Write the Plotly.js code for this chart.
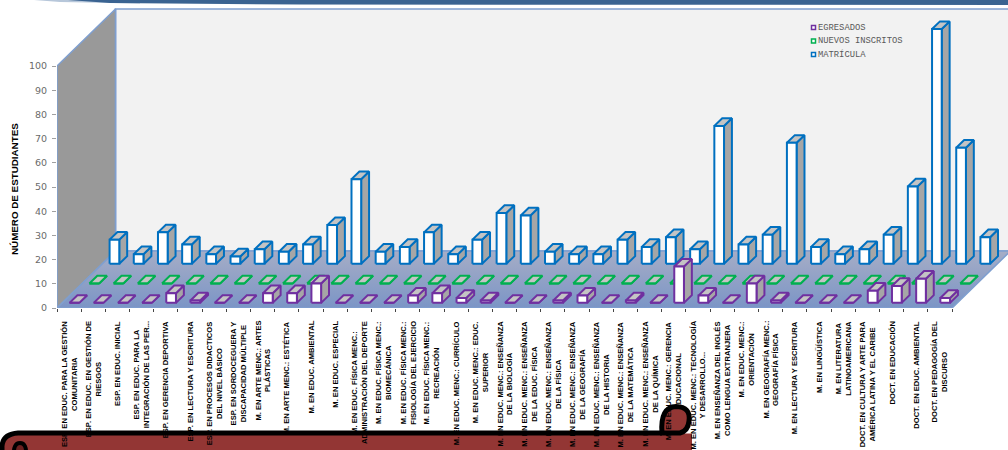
<!DOCTYPE html>
<html>
<head>
<meta charset="utf-8">
<script src="https://cdn.plot.ly/plotly-3.0.1.min.js"></script>
<style>html,body{margin:0;padding:0;background:#fff;overflow:hidden}#chart{width:1008px;height:450px}</style>
</head>
<body>
<div id="chart"></div>
<script>
const categories = [
 "ESP. EN EDUC. PARA LA GESTIÓN<br>COMUNITARIA",
 "ESP. EN EDUC. EN GESTIÓN DE<br>RIESGOS",
 "ESP. EN EDUC. INICIAL",
 "ESP. EN EDUC. PARA LA<br>INTEGRACIÓN DE LAS PER...",
 "ESP. EN GERENCIA DEPORTIVA",
 "ESP. EN LECTURA Y ESCRITURA",
 "ESP. EN PROCESOS DIDACTICOS<br>DEL NIVEL BÁSICO",
 "ESP. EN SORDOCEGUERA Y<br>DISCAPACIDAD MÚLTIPLE",
 "M. EN ARTE MENC.: ARTES<br>PLÁSTICAS",
 "M. EN ARTE MENC.: ESTÉTICA",
 "M. EN EDUC. AMBIENTAL",
 "M. EN EDUC. ESPECIAL",
 "M. EN EDUC. FÍSICA MENC.:<br>ADMINISTRACIÓN DEL DEPORTE",
 "M. EN EDUC. FÍSICA MENC.:<br>BIOMECÁNICA",
 "M. EN EDUC. FÍSICA MENC.:<br>FISIOLOGÍA DEL EJERCICIO",
 "M. EN EDUC. FÍSICA MENC.:<br>RECREACIÓN",
 "M. EN EDUC. MENC.: CURRÍCULO",
 "M. EN EDUC. MENC.: EDUC.<br>SUPERIOR",
 "M. EN EDUC. MENC.: ENSEÑANZA<br>DE LA BIOLOGÍA",
 "M. EN EDUC. MENC.: ENSEÑANZA<br>DE LA EDUC. FÍSICA",
 "M. EN EDUC. MENC.: ENSEÑANZA<br>DE LA FÍSICA",
 "M. EN EDUC. MENC.: ENSEÑANZA<br>DE LA GEOGRAFÍA",
 "M. EN EDUC. MENC.: ENSEÑANZA<br>DE LA HISTORIA",
 "M. EN EDUC. MENC.: ENSEÑANZA<br>DE LA MATEMÁTICA",
 "M. EN EDUC. MENC.: ENSEÑANZA<br>DE LA QUÍMICA",
 "M. EN EDUC. MENC.: GERENCIA<br>EDUCACIONAL",
 "M. EN EDUC. MENC.: TECNOLOGÍA<br>Y DESARROLLO...",
 "M. EN ENSEÑANZA DEL INGLÉS<br>COMO LENGUA EXTRANJERA",
 "M. EN EDUC. MENC.:<br>ORIENTACIÓN",
 "M. EN GEOGRAFÍA MENC.:<br>GEOGRAFÍA FÍSICA",
 "M. EN LECTURA Y ESCRITURA",
 "M. EN LINGÜÍSTICA",
 "M. EN LITERATURA<br>LATINOAMERICANA",
 "DOCT. EN CULTURA Y ARTE PARA<br>AMÉRICA LATINA Y EL CARIBE",
 "DOCT. EN EDUCACIÓN",
 "DOCT. EN EDUC. AMBIENTAL",
 "DOCT. EN PEDAGOGÍA DEL<br>DISCURSO"
];
const egresados = [0,0,0,0,4,1,0,0,4,4,8,0,0,0,3,4,2,1,0,0,1,3,0,1,0,15,3,0,8,1,0,0,0,5,7,10,2];
const nuevosInscritos = [0,0,0,0,0,0,0,0,0,0,0,0,0,0,0,0,0,0,0,0,0,0,0,0,0,0,0,0,0,0,0,0,0,0,0,0,0];
const matricula = [10,4,13,8,4,3,6,5,8,16,35,5,7,13,4,10,21,20,5,4,4,10,7,11,6,57,8,12,50,7,4,6,12,32,97,48,11];
const seriesNames = ["EGRESADOS","NUEVOS INSCRITOS","MATRÍCULA"];
const seriesColors = ["#7030a0","#00b050","#0070c0"];
const yTicks = [0,10,20,30,40,50,60,70,80,90,100];

// Oblique projection of the 3D box onto the 2D axes (units: category, value)
const PXX = 24.19, PXY = 2.42;
const depthX = 58.5 / PXX, depthY = 57 / PXY;
const proj = (c, f, v) => [c + f * depthX, v + f * depthY];
const rowDepth = [0.09, 0.43, 0.775];
const barW = 0.40, barD = 0.135;

function poly(points) { return points.map(p => proj(p[0], p[1], p[2])); }
function faces(values, f0) {
  const out = {front:{x:[],y:[]}, top:{x:[],y:[]}, side:{x:[],y:[]}};
  const add = (t, pts) => {
    const q = poly(pts); q.push(q[0]);
    q.forEach(p => { t.x.push(p[0]); t.y.push(p[1]); });
    t.x.push(null); t.y.push(null);
  };
  values.forEach((v, i) => {
    const a = i + 0.5 - barW / 2, b = a + barW, f1 = f0 + barD;
    add(out.side, [[b,f0,0],[b,f1,0],[b,f1,v],[b,f0,v]]);
    add(out.top,  [[a,f0,v],[b,f0,v],[b,f1,v],[a,f1,v]]);
    add(out.front,[[a,f0,0],[b,f0,0],[b,f0,v],[a,f0,v]]);
  });
  return out;
}
function area(pts, fill, extra) {
  const q = poly(pts); q.push(q[0]);
  return Object.assign({type:"scatter", mode:"lines", x:q.map(p=>p[0]), y:q.map(p=>p[1]),
    fill:"toself", fillcolor:fill, line:{color:"#7f9fcf", width:1.6},
    hoverinfo:"skip", showlegend:false, cliponaxis:false}, extra || {});
}
const n = categories.length, vMax = yTicks[yTicks.length - 1];
const traces = [
  area([[0,1,0],[0,1,vMax],[n,1,vMax],[n,1,0]], "#f2f2f2"),
  area([[0,0,0],[0,0,vMax],[0,1,vMax],[0,1,0]], "#999999"),
  area([[0,0,0],[0,1,0],[n,1,0],[n,0,0]], "#8c9cc4", {
    fillgradient:{type:"vertical", colorscale:[[0,"#7b95c6"],[1,"#a6adc6"]]}
  })
];
[[matricula,2],[nuevosInscritos,1],[egresados,0]].forEach(([vals,r]) => {
  const fc = faces(vals, rowDepth[r]);
  const col = seriesColors[r];
  [["side","#a6a6a6"],["top","#c4c4c4"],["front","#ffffff"]].forEach(([k,fill]) => {
    traces.push({type:"scatter", mode:"lines", x:fc[k].x, y:fc[k].y, fill:"toself", fillcolor:fill,
      line:{color:col, width:2}, name:seriesNames[r], hoverinfo:"skip", showlegend:false, cliponaxis:false});
  });
});

// Layout constants in page pixels
const L = 57, T = 0, W = 951, H = 308;
const xp = px => (px - L) / W, yp = py => (T + H - py) / H;
const path = cmds => cmds.map(c => c[0] + " " + c.slice(1).reduce((s,v,i)=> s + (i%2===0 ? xp(v).toFixed(5) + "," : yp(v).toFixed(5) + " "), "")).join(" ");
const decor = (d, fill, line, lw) => ({type:"path", xref:"paper", yref:"paper", layer:"below", path:d,
  fillcolor:fill, line:{color:line||"rgba(0,0,0,0)", width:lw||0}});

const shapes = [
  decor(path([["M",8,-2],["L",60,2],["L",140,3.5],["L",140,-2]]) + " Z", "#b7c7da"),
  decor(path([["M",40,-2],["L",110,3],["L",300,4.5],["L",1010,5],["L",1010,-2]]) + " Z", "#3a6391"),
  decor(path([["M",2,456],["L",2,446],["Q",3,434,18,433.5],["L",692,433.5],["L",692,456]]) + " Z", "#933634"),
  decor(path([["M",2,456],["L",2,446],["Q",3,434,18,433],["L",662,433]]), "rgba(0,0,0,0)", "#000000", 5),
  decor(path([["M",662,433],["Q",660,407,676,406.5],["Q",691,407,689,421],["Q",688,431,680,433],["L",660,433]]) + " Z", "#933634", "#000000", 5),
  decor(path([["M",14,456],["Q",13,443,20,443],["Q",27,443,26,456]]) + " Z", "#6b2020", "#000000", 4)
];

const annotations = categories.map((c, i) => ({
  text:c, x:i + 0.5, y:0, xref:"x", yref:"paper", xanchor:"center", yanchor:"top", yshift:-11,
  textangle:-90, showarrow:false, align:"center",
  font:{family:"Liberation Sans, Arial, sans-serif", size:7.6, color:"#000000", weight:700}
}));
annotations.push({
  text:"NÚMERO DE ESTUDIANTES", xref:"paper", yref:"paper", x:xp(14), y:yp(189), xanchor:"center", yanchor:"middle",
  textangle:-90, showarrow:false, font:{family:"Liberation Sans, Arial, sans-serif", size:9.8, color:"#000000", weight:700}
});
[27.5,41,54.5].forEach((py, i) => {
  annotations.push({text:seriesNames[i], xref:"paper", yref:"paper", x:xp(816), y:yp(py), xanchor:"left", yanchor:"middle",
    showarrow:false, font:{family:"Liberation Mono, monospace", size:8.8, color:"#595959"}});
  shapes.push({type:"rect", xref:"paper", yref:"paper", layer:"above", x0:xp(811.5), x1:xp(815.5), y0:yp(py+2), y1:yp(py-2),
    fillcolor:"#ffffff", line:{color:seriesColors[i], width:1.5}});
});

const layout = {
  width:1008, height:450, margin:{l:L, r:0, t:T, b:450-H-T, pad:0},
  paper_bgcolor:"#ffffff", plot_bgcolor:"rgba(0,0,0,0)", showlegend:false,
  xaxis:{range:[0, W / PXX], tickmode:"array", tickvals:categories.map((_,i)=>i).concat([n]), showticklabels:false,
    ticks:"outside", ticklen:3, tickcolor:"#444444", tickwidth:1, showgrid:false, zeroline:false, showline:false, fixedrange:true},
  yaxis:{range:[0, H / PXY], tickmode:"array", tickvals:yTicks, ticktext:yTicks.map(String),
    ticks:"outside", ticklen:4, tickcolor:"#a0a0a0", tickwidth:1, showgrid:false, zeroline:false, showline:false, ticklabelstandoff:3,
    tickfont:{family:"DejaVu Sans, sans-serif", size:9.5, color:"#6a6a6a"}, fixedrange:true},
  shapes, annotations
};
Plotly.newPlot("chart", traces, layout, {displayModeBar:false, staticPlot:true});
</script>
</body>
</html>
